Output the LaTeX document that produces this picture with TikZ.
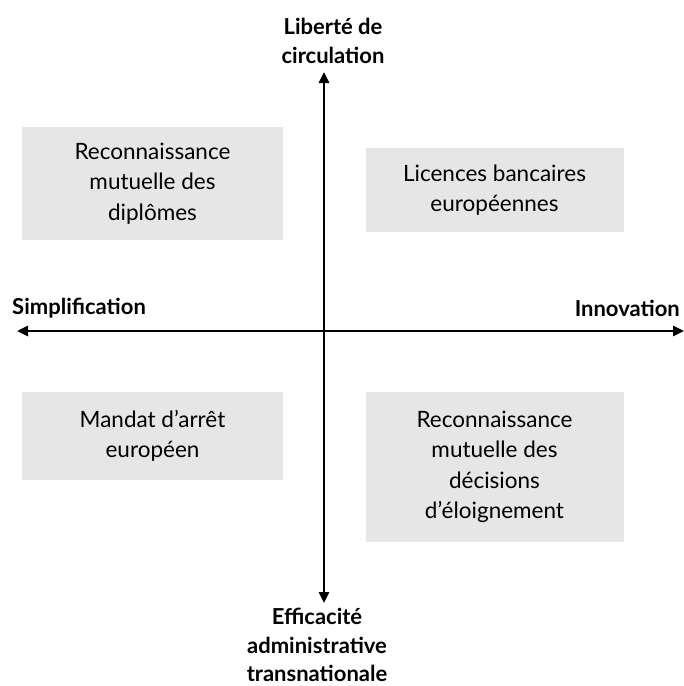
\documentclass[tikz,border=0pt]{standalone}
\usepackage{fontspec}
\setmainfont{Lato}
\usetikzlibrary{arrows.meta}
\definecolor{boxgray}{RGB}{230,230,230}
\tikzset{
  quad/.style={fill=boxgray, draw=none, align=center, inner sep=0pt,
    font=\fontsize{22.5}{30.5}\selectfont},
  axislabel/.style={align=center, inner sep=0pt, font=\bfseries\fontsize{22}{28.5}\selectfont},
  axisline/.style={line width=2.6pt, {Triangle[length=11pt,width=10pt]}-{Triangle[length=11pt,width=10pt]}}
}
\begin{document}
\begin{tikzpicture}[x=1pt,y=-1pt]
\useasboundingbox (0,0) rectangle (684,686);
\node[quad, minimum width=261pt, minimum height=113pt] (tl) at (152.5,183.5) {Reconnaissance\\mutuelle des\\diplômes};
\node[quad, minimum width=258pt, minimum height=84pt] (tr) at (494.5,190) {Licences bancaires\\européennes};
\node[quad, minimum width=261pt, minimum height=88pt] (bl) at (152.5,436) {Mandat d’arrêt\\européen};
\node[quad, minimum width=258pt, minimum height=150pt] (br) at (494.5,467) {Reconnaissance\\mutuelle des\\décisions\\d’éloignement};
\coordinate (top) at (324,72);
\coordinate (bot) at (324,603);
\coordinate (left) at (17,331);
\coordinate (right) at (684,331);
\draw[axisline] (bot) -- (top);
\draw[axisline] (left) -- (right);
\node[axislabel] (lt) at (333,41) {Liberté de\\circulation};
\node[axislabel] (lb) at (317,645) {Efficacité\\administrative\\transnationale};
\node[axislabel, anchor=west] (ll) at (12,308) {Simplification};
\node[axislabel, anchor=east] (lr) at (680,308) {Innovation};
\end{tikzpicture}
\end{document}
